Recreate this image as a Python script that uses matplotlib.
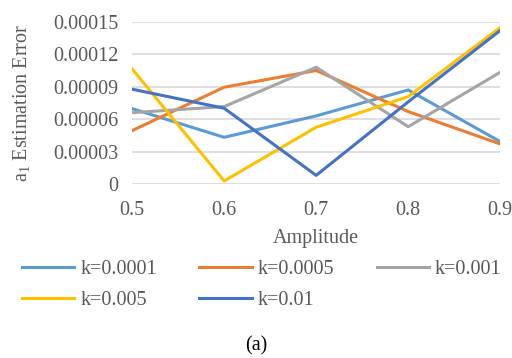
import numpy as np
import matplotlib.pyplot as plt

amplitude = [0.5, 0.6, 0.7, 0.8, 0.9]
k_0001 = [0.0000697, 0.0000432, 0.0000630, 0.0000870, 0.0000392]
k_0005 = [0.0000494, 0.0000895, 0.0001050, 0.0000670, 0.0000370]
k_001 = [0.0000660, 0.0000716, 0.0001080, 0.0000530, 0.0001034]
k_005 = [0.0001065, 0.0000028, 0.0000525, 0.0000808, 0.0001447]
k_01 = [0.0000877, 0.0000701, 0.0000080, 0.0000760, 0.0001420]

series = [("k=0.0001", k_0001, "#5B9BD5"),
          ("k=0.0005", k_0005, "#ED7D31"),
          ("k=0.001", k_001, "#A5A5A5"),
          ("k=0.005", k_005, "#FFC000"),
          ("k=0.01", k_01, "#4472C4")]

plt.rcParams['font.family'] = ['Liberation Serif', 'DejaVu Serif']
plt.rcParams['mathtext.fontset'] = 'custom'
plt.rcParams['mathtext.rm'] = 'Liberation Serif'
txt = "#595959"
fs = 14.5

fig = plt.figure(figsize=(5.12, 3.58), dpi=100)
ax = fig.add_axes([0.258, 0.486, 0.719, 0.453])

lines = []
for name, vals, col in series:
    ln, = ax.plot(amplitude, vals, color=col, lw=2.2, label=name)
    lines.append(ln)

ax.set_xlim(0.5, 0.9)
ax.set_ylim(0, 0.00015)
ax.set_xticks(amplitude)
ax.set_xticklabels(["0.5", "0.6", "0.7", "0.8", "0.9"])
yt = [0, 0.00003, 0.00006, 0.00009, 0.00012, 0.00015]
ax.set_yticks(yt)
ax.set_yticklabels(["0", "0.00003", "0.00006", "0.00009", "0.00012", "0.00015"])
ax.grid(axis='y', color="#D9D9D9", lw=1.2)
ax.set_axisbelow(True)
for s in ax.spines.values():
    s.set_visible(False)
ax.tick_params(length=0, labelsize=fs, labelcolor=txt, pad=10)
ax.tick_params(axis='x', pad=12)

ax.set_xlabel("Amplitude", fontsize=fs, color=txt, labelpad=7)
ax.set_ylabel("a$_\\mathrm{1}$ Estimation Error", fontsize=fs, color=txt, labelpad=14)

# legend filled row by row like the original
order = [0, 3, 1, 4, 2]
fig.legend([lines[i] for i in order], [series[i][0] for i in order],
           loc='upper left', bbox_to_anchor=(0.043, 0.275), ncol=3, frameon=False,
           fontsize=fs, labelcolor=txt, handlelength=2.6, columnspacing=2.1,
           handletextpad=0.3, labelspacing=0.62, borderaxespad=0, borderpad=0)

fig.text(0.5, 0.02, "(a)", ha='center', fontsize=fs, color='black')

fig.savefig("out.png", dpi=100)
